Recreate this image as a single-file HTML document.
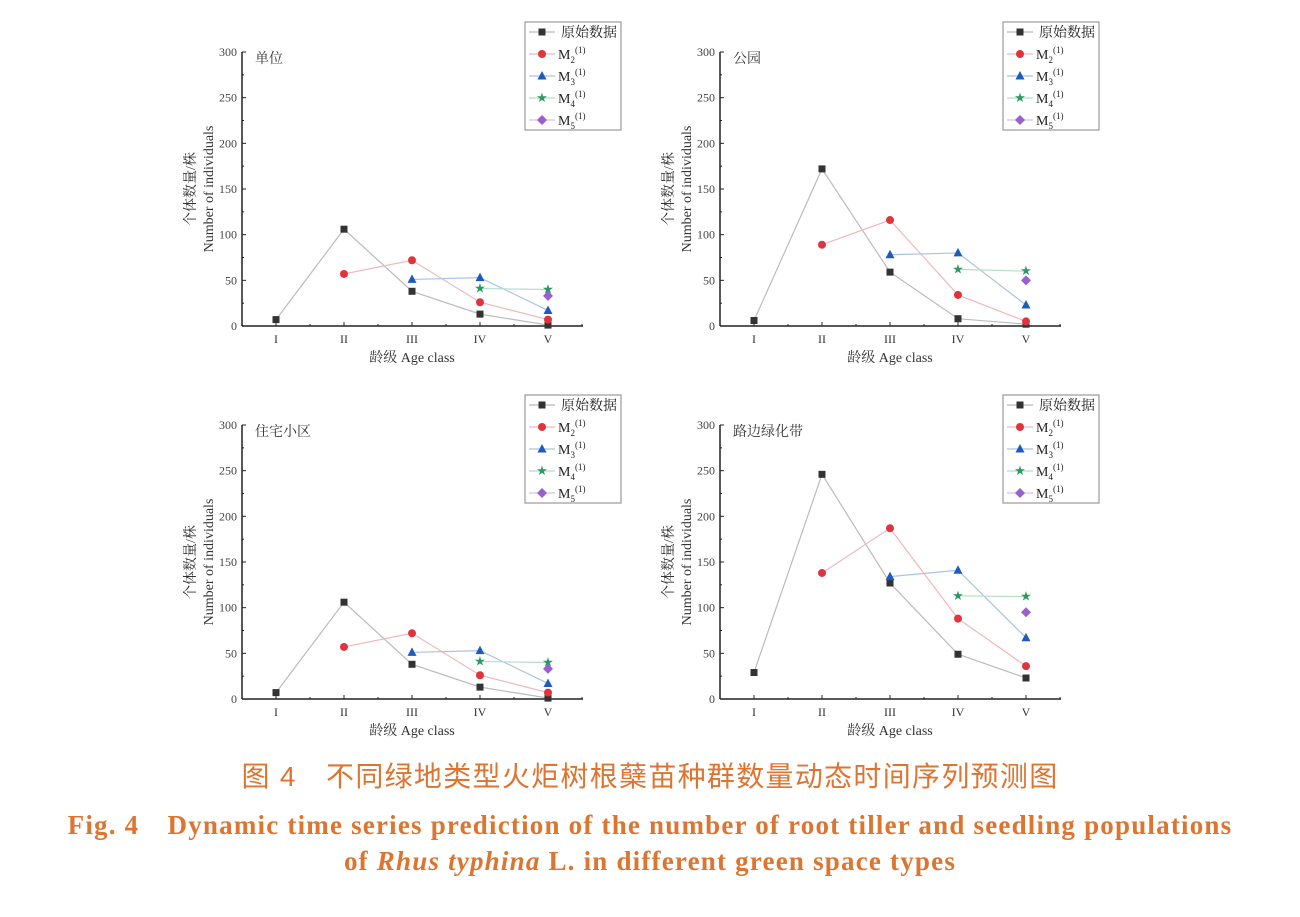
<!DOCTYPE html>
<html><head><meta charset="utf-8">
<style>
body{margin:0;background:#fff;width:1300px;height:917px;overflow:hidden;font-family:"Liberation Serif","Noto Serif CJK SC",serif;}
.cap{position:absolute;left:0;width:1300px;text-align:center;color:#dd7430;white-space:nowrap;}
</style></head><body>
<svg id="chart" width="1300" height="745" style="position:absolute;left:0;top:0" font-family="Liberation Serif, Noto Serif CJK SC, serif"></svg>
<div class="cap" style="top:755px;font-size:28px;letter-spacing:1.3px;font-family:'Liberation Sans','Noto Sans CJK SC',sans-serif;">图 4　不同绿地类型火炬树根蘖苗种群数量动态时间序列预测图</div>
<div class="cap" style="top:803px;font-size:27px;letter-spacing:1.2px;font-weight:bold;">Fig. 4　Dynamic time series prediction of the number of root tiller and seedling populations</div>
<div class="cap" style="top:846px;font-size:27px;letter-spacing:1.2px;font-weight:bold;">of <i>Rhus typhina</i> L. in different green space types</div>
<script>
const categories=["I","II","III","IV","V"];
const yTicks=[0,50,100,150,200,250,300];
const panelTitles=["单位","公园","住宅小区","路边绿化带"];
const origData=[[7,106,38,13,1],[6,172,59,8,2],[7,106,38,13,1],[29,246,127,49,23]];
const m2Data=[[null,57,72,26,7],[null,89,116,34,5],[null,57,72,26,7],[null,138,187,88,36]];
const m3Data=[[null,null,51,53,17],[null,null,78,80,23],[null,null,51,53,17],[null,null,134,141,67]];
const m4Data=[[null,null,null,41,40],[null,null,null,62,60],[null,null,null,41,40],[null,null,null,113,112]];
const m5Data=[[null,null,null,null,33],[null,null,null,null,50],[null,null,null,null,33],[null,null,null,null,95]];
const NS="http://www.w3.org/2000/svg";
const svg=document.getElementById('chart');
function mk(tag,attrs,parent){const e=document.createElementNS(NS,tag);for(const k in attrs)e.setAttribute(k,attrs[k]);(parent||svg).appendChild(e);return e;}
const origins=[[242,326],[720,326],[242,699],[720,699]];
const series=[
 {name:"原始数据",data:origData,line:"#bbbbbb",fill:"#333",shape:"sq"},
 {name:"M2",data:m2Data,line:"#f0b8be",fill:"#e0333c",shape:"ci"},
 {name:"M3",data:m3Data,line:"#a9c4e4",fill:"#1f5bbf",shape:"tr"},
 {name:"M4",data:m4Data,line:"#b5dcc6",fill:"#2a9a62",shape:"st"},
 {name:"M5",data:m5Data,line:"#d5c2ea",fill:"#9a5fd0",shape:"di"}];
function marker(g,shape,x,y,fill){
 let e;
 if(shape=="sq")e=mk('rect',{x:x-3.5,y:y-3.5,width:7,height:7,fill:fill},g);
 else if(shape=="ci")e=mk('circle',{cx:x,cy:y,r:4,fill:fill},g);
 else if(shape=="tr")e=mk('polygon',{points:`${x},${y-5} ${x+4.5},${y+3.5} ${x-4.5},${y+3.5}`,fill:fill},g);
 else if(shape=="st")e=mk('text',{x:x,y:y+4,'text-anchor':'middle','font-size':13,fill:fill,'font-family':'DejaVu Sans'},g),e.textContent="★";
 else e=mk('polygon',{points:`${x},${y-5} ${x+5},${y} ${x},${y+5} ${x-5},${y}`,fill:fill},g);
 return e;}
origins.forEach(([ox,oy],p)=>{
 const g=mk('g',{});
 
 
 const H=274,xs=i=>ox+34+i*68,ys=v=>oy-v/300*H;
 mk('line',{x1:ox,y1:oy,x2:ox+341,y2:oy,stroke:'#222','stroke-width':1.5},g);
 mk('line',{x1:ox,y1:oy,x2:ox,y2:oy-H,stroke:'#222','stroke-width':1.5},g);
 yTicks.forEach(t=>{const y=ys(t);mk('line',{x1:ox,y1:y,x2:ox+4,y2:y,stroke:'#222'},g);
  if(t<300)mk('line',{x1:ox,y1:y-H/12,x2:ox+2,y2:y-H/12,stroke:'#222'},g);
  const tx=mk('text',{x:ox-5,y:y+4,'text-anchor':'end','font-size':12,fill:'#444'},g);tx.textContent=t;});
 categories.forEach((c,i)=>{const x=xs(i);mk('line',{x1:x,y1:oy,x2:x,y2:oy-4,stroke:'#222'},g);
  mk('line',{x1:x+34,y1:oy,x2:x+34,y2:oy-2,stroke:'#222'},g);
  const tx=mk('text',{x:x,y:oy+17,'text-anchor':'middle','font-size':12,fill:'#333'},g);tx.textContent=c;});
 const xt=mk('text',{x:ox+170,y:oy+36,'text-anchor':'middle','font-size':14,fill:'#333'},g);xt.textContent="龄级  Age class";
 
 const yt=mk('text',{transform:`translate(${ox-47},${oy-137}) rotate(-90)`,'text-anchor':'middle','font-size':14,fill:'#333'},g);
 
 mk('tspan',{x:0,dy:0},yt).textContent="个体数量/株";
 mk('tspan',{x:0,dy:18},yt).textContent="Number of individuals";
 const tt=mk('text',{x:ox+13,y:oy-263,'font-size':14,fill:'#333'},g);tt.textContent=panelTitles[p];
 
 series.forEach(s=>{const d=s.data[p];const pts=[];d.forEach((v,i)=>{if(v!=null)pts.push(xs(i)+','+ys(v));});
  if(pts.length>1){const l=mk('polyline',{points:pts.join(' '),fill:'none',stroke:s.line,'stroke-width':1.2},g);
   }
  d.forEach((v,i)=>{if(v!=null){const m=marker(g,s.shape,xs(i),ys(v),s.fill);}});});
 const lx=ox+283,ly=oy-304;
 const lg=mk('g',{},g);
 
 
 mk('rect',{x:lx,y:ly,width:96,height:108,fill:'#fff',stroke:'#999','stroke-width':1.2},lg);
 series.forEach((s,k)=>{const y=ly+10+k*22;mk('line',{x1:lx+4,y1:y,x2:lx+30,y2:y,stroke:s.line,'stroke-width':1.2},lg);
  marker(lg,s.shape,lx+17,y,s.fill);
  const t=mk('text',{x:k==0?lx+36:lx+33,y:y+5,'font-size':14,fill:'#222'},lg);
  if(k==0)t.textContent=s.name;else{t.textContent="M";mk('tspan',{dy:4,'font-size':9},t).textContent=String(k+1);mk('tspan',{dy:-10,'font-size':9},t).textContent="(1)";}
 });
});
</script>
</body></html>
